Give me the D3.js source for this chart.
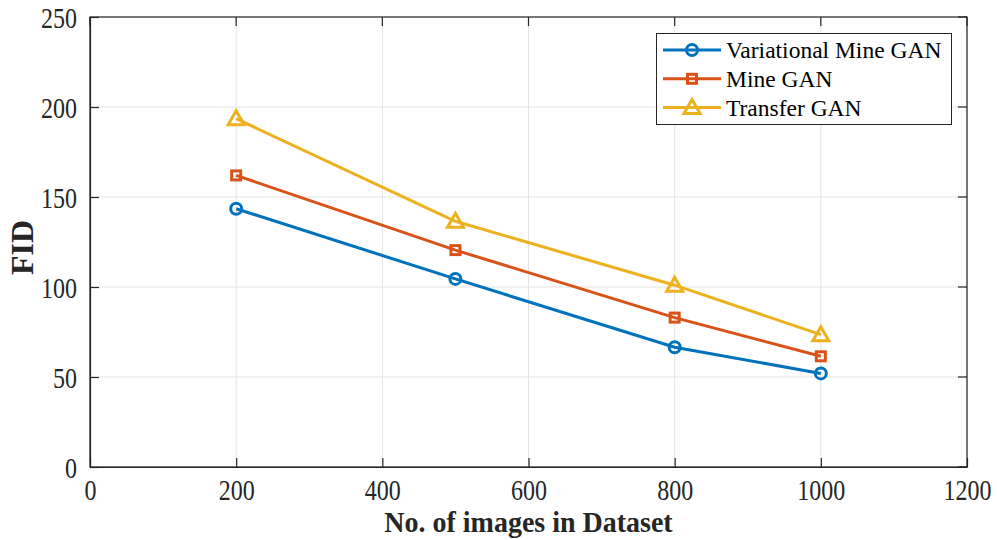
<!DOCTYPE html>
<html><head><meta charset="utf-8">
<script src="https://cdn.jsdelivr.net/npm/d3@7"></script>
</head><body style="margin:0">
<svg id="c" width="997" height="540" font-family="serif"></svg>
<script>
const xValues = [200, 500, 800, 1000];
const variationalMineGAN = [143.5, 104.5, 66.5, 52];
const mineGAN = [162, 120.5, 83, 61.5];
const transferGAN = [193.5, 136.5, 101, 73.5];
const seriesNames = ["Variational Mine GAN", "Mine GAN", "Transfer GAN"];
const xTicks = [0, 200, 400, 600, 800, 1000, 1200];
const yTicks = [0, 50, 100, 150, 200, 250];

const colors = ["#0072BD", "#D95319", "#EDB120"];
const markers = ["circle", "square", "triangle"];
const series = [variationalMineGAN, mineGAN, transferGAN];

const svg = d3.select("#c");
const L = 90, R = 967, T = 17, B = 467;
const x = d3.scaleLinear().domain([0, 1200]).range([L, R]);
const y = d3.scaleLinear().domain([0, 250]).range([B, T]);
const FONT = "serif";
const INK = "#262626";

// grid
svg.append("g").selectAll("line").data(xTicks).join("line")
  .attr("x1", d => x(d)).attr("x2", d => x(d)).attr("y1", T).attr("y2", B)
  .attr("stroke", "#e3e3e3").attr("stroke-width", 1);
svg.append("g").selectAll("line").data(yTicks).join("line")
  .attr("y1", d => y(d)).attr("y2", d => y(d)).attr("x1", L).attr("x2", R)
  .attr("stroke", "#e3e3e3").attr("stroke-width", 1);

// axes
const fmt = d3.format("d");
const xAxis = d3.axisBottom(x).tickValues(xTicks).tickFormat(fmt).tickSizeInner(-9).tickSizeOuter(0);
const yAxis = d3.axisLeft(y).tickValues(yTicks).tickFormat(fmt).tickSizeInner(-9).tickSizeOuter(0);
const gx = svg.append("g").attr("transform", `translate(0,${B})`).call(xAxis);
const gy = svg.append("g").attr("transform", `translate(${L},0)`).call(yAxis);
[gx, gy].forEach(g => {
  g.attr("font-family", FONT).attr("font-size", 24);
  g.select(".domain").attr("stroke", INK).attr("stroke-width", 1.2);
  g.selectAll(".tick line").attr("stroke", INK).attr("stroke-width", 1.2);
  g.selectAll("text").attr("fill", INK).attr("font-family", FONT).attr("font-size", 24);
});
gx.selectAll(".tick text").attr("x", 0).attr("y", 0).attr("dy", null)
  .attr("transform", "translate(0,33) scale(1,1.22)");
gy.selectAll(".tick text").attr("x", 0).attr("y", 0).attr("dy", null)
  .attr("transform", "translate(-13,10) scale(1,1.22)");

// top/right ticks and box
svg.append("g").selectAll("line").data(xTicks).join("line")
  .attr("x1", d => x(d)).attr("x2", d => x(d)).attr("y1", T).attr("y2", T + 9)
  .attr("stroke", INK).attr("stroke-width", 1.2);
svg.append("g").selectAll("line").data(yTicks).join("line")
  .attr("y1", d => y(d)).attr("y2", d => y(d)).attr("x1", R).attr("x2", R - 9)
  .attr("stroke", INK).attr("stroke-width", 1.2);
svg.append("rect").attr("x", L).attr("y", T).attr("width", R - L).attr("height", B - T)
  .attr("fill", "none").attr("stroke", INK).attr("stroke-width", 1.2);

// labels
svg.append("text").attr("transform", `translate(${(L + R) / 2},532) scale(1,1.08)`).attr("text-anchor", "middle")
  .attr("font-family", FONT).attr("font-weight", "bold").attr("font-size", 28).attr("fill", INK)
  .text("No. of images in Dataset");
svg.append("text").attr("transform", `translate(33,247.5) rotate(-90)`).attr("text-anchor", "middle")
  .attr("font-family", FONT).attr("font-weight", "bold").attr("font-size", 32).attr("fill", INK)
  .text("FID");

function drawMarker(g, type, cx, cy, color) {
  if (type === "circle") {
    g.append("circle").attr("cx", cx).attr("cy", cy).attr("r", 5.5)
      .attr("fill", "none").attr("stroke", color).attr("stroke-width", 3);
  } else if (type === "square") {
    g.append("rect").attr("x", cx - 4.5).attr("y", cy - 4.5).attr("width", 9).attr("height", 9)
      .attr("fill", "none").attr("stroke", color).attr("stroke-width", 3);
  } else {
    const s = 8;
    g.append("path").attr("d", `M${cx},${cy - s}L${cx + s},${cy + s * 0.75}L${cx - s},${cy + s * 0.75}Z`)
      .attr("fill", "none").attr("stroke", color).attr("stroke-width", 3).attr("stroke-linejoin", "miter");
  }
}

const line = d3.line().x(d => x(d[0])).y(d => y(d[1]));
series.forEach((vals, i) => {
  const pts = xValues.map((xv, j) => [xv, vals[j]]);
  const g = svg.append("g");
  g.append("path").attr("d", line(pts)).attr("fill", "none")
    .attr("stroke", colors[i]).attr("stroke-width", 3);
  pts.forEach(p => drawMarker(g, markers[i], x(p[0]), y(p[1]), colors[i]));
});

// legend
const lg = svg.append("g");
lg.append("rect").attr("x", 656.5).attr("y", 33.5).attr("width", 295).attr("height", 91)
  .attr("fill", "#fff").attr("stroke", INK).attr("stroke-width", 1);
seriesNames.forEach((name, i) => {
  const cy = 50 + i * 28.8;
  lg.append("line").attr("x1", 663).attr("x2", 721).attr("y1", cy).attr("y2", cy)
    .attr("stroke", colors[i]).attr("stroke-width", 3);
  drawMarker(lg, markers[i], 692, cy, colors[i]);
  lg.append("text").attr("x", 726).attr("y", cy + 8).attr("font-family", FONT)
    .attr("font-size", 23.5).text(name);
});
</script>
</body></html>
